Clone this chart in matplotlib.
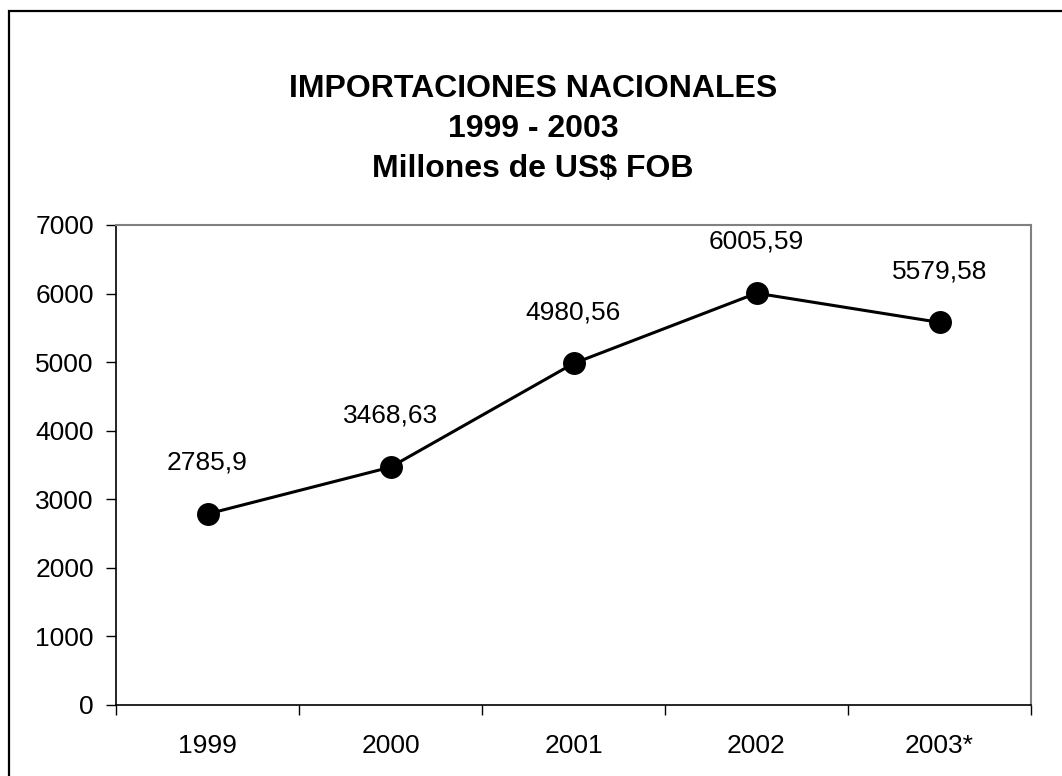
import matplotlib
matplotlib.use("Agg")
import matplotlib.pyplot as plt
from matplotlib.patches import Rectangle
import numpy as np

# datos
anios = ["1999", "2000", "2001", "2002", "2003*"]
importaciones = [2785.9, 3468.63, 4980.56, 6005.59, 5579.58]
etiquetas = ["2785,9", "3468,63", "4980,56", "6005,59", "5579,58"]

plt.rcParams['font.family'] = ['Liberation Sans', 'DejaVu Sans']

fig = plt.figure(figsize=(10.62, 7.76), dpi=100)
ax = fig.add_axes([116/1062, 1 - 705/776, (1031 - 116)/1062, (705 - 225)/776])

x = np.arange(len(anios))
ax.plot(x, importaciones, color='black', lw=2.2, marker='o', ms=15.5,
        markerfacecolor='black', markeredgecolor='black')

for xi, yi, txt in zip(x, importaciones, etiquetas):
    ax.annotate(txt, (xi, yi), xytext=(0, 37), textcoords='offset points',
                ha='center', va='center', fontsize=19)

ax.set_xlim(-0.5, len(anios) - 0.5)
ax.set_ylim(0, 7000)
ax.set_yticks(range(0, 7001, 1000))
ax.set_xticks(x)
ax.set_xticklabels(anios)
ax.set_xticks(np.arange(-0.5, len(anios), 1), minor=True)

ax.tick_params(axis='y', direction='out', length=7, width=1, labelsize=19, pad=9)
ax.tick_params(axis='x', which='major', length=0, labelsize=19, pad=21)
ax.tick_params(axis='x', which='minor', direction='out', length=7, width=1)

ax.spines['left'].set_color('black')
ax.spines['bottom'].set_color('black')
ax.spines['left'].set_linewidth(1.2)
ax.spines['bottom'].set_linewidth(1.2)
ax.spines['top'].set_color('#808080')
ax.spines['right'].set_color('#808080')
ax.spines['top'].set_linewidth(1.5)
ax.spines['right'].set_linewidth(1.5)

fig.text(533/1062, 1 - 129/776,
         "IMPORTACIONES NACIONALES\n1999 - 2003\nMillones de US$ FOB",
         ha='center', va='center', fontsize=23, fontweight='bold', linespacing=1.42)

# marco exterior
fig.patches.append(Rectangle((9/1062, -0.1), 1.2, 1 - 11/776 + 0.1,
                             transform=fig.transFigure, fill=False,
                             edgecolor='black', lw=1.6))

fig.savefig("out.png", dpi=100)
